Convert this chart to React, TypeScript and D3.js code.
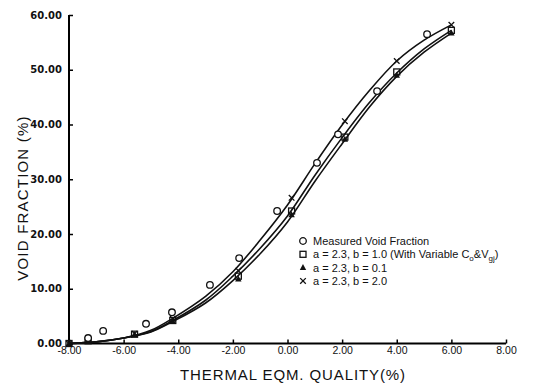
import { useEffect, useRef } from "react";
import * as d3 from "d3";

// measured void fraction (open circles)
const measuredX = [-7.3, -6.75, -5.18, -4.23, -2.84, -1.77, -0.38, 1.08, 1.85, 3.28, 5.11];
const measuredY = [1.0, 2.3, 3.6, 5.7, 10.7, 15.6, 24.2, 33.0, 38.2, 46.1, 56.5];

// predicted points on each curve
const predX = [-8, -7.3, -5.6, -4.2, -1.8, 0.15, 2.1, 4.0, 6.0];
const squareY = [0, 0.5, 1.7, 4.2, 12.3, 24.2, 37.7, 49.6, 57.2];
const triangleY = [0, 0.4, 1.6, 4.0, 11.8, 23.5, 37.3, 49.0, 56.7];
const crossY = [0, 0.6, 1.8, 4.5, 13.3, 26.6, 40.6, 51.6, 58.2];

// smooth curve through each model
const curveX = [-8, -7, -6, -5, -4.2, -3, -2, -1, 0, 1, 2, 3, 4, 5, 6];
const upperY = [0, 0.3, 1.0, 2.4, 4.6, 8.6, 13.1, 18.9, 25.3, 32.8, 39.9, 46.2, 51.6, 55.4, 58.2];
const middleY = [0, 0.3, 1.0, 2.2, 4.2, 7.9, 12.3, 17.4, 23.3, 30.7, 37.6, 44.0, 49.4, 53.8, 57.2];
const lowerY = [0, 0.3, 1.0, 2.1, 4.0, 7.4, 11.5, 16.4, 22.2, 29.6, 36.5, 43.2, 48.8, 53.2, 56.7];

const xTicks = [-8, -6, -4, -2, 0, 2, 4, 6, 8];
const yTicks = [0, 10, 20, 30, 40, 50, 60];

const legendLabels = [
  "Measured Void Fraction",
  "a = 2.3, b = 1.0 (With Variable ",
  "a = 2.3, b = 0.1",
  "a = 2.3, b = 2.0",
];

export default function App() {
  const ref = useRef<SVGSVGElement>(null);

  useEffect(() => {
    if (!ref.current) return;
    const el = ref.current;
    const width = 535;
    const height = 387;
    d3.select(el).selectAll("*").remove();

    const svg = d3.select(el).attr("width", width).attr("height", height);
    svg.append("rect").attr("width", width).attr("height", height).attr("fill", "white");

    const x = d3.scaleLinear().domain([-8, 8]).range([69, 506]);
    const y = d3.scaleLinear().domain([0, 60]).range([343.5, 15]);

    // Axes
    const yAxis = svg
      .append("g")
      .attr("transform", `translate(${x(-8)},0)`)
      .call(d3.axisLeft(y).tickValues(yTicks).tickSize(-4).tickPadding(7).tickFormat((v) => Number(v).toFixed(2)));
    yAxis.select(".domain").attr("stroke-width", 2).attr("d", `M0,${y(0)}V${y(60)}`);
    yAxis.selectAll("line").attr("stroke-width", 1.5);
    yAxis
      .selectAll("text")
      .style("font-family", "'DejaVu Sans', sans-serif")
      .style("font-weight", "bold")
      .style("font-size", "10px")
      .attr("fill", "#111");

    const xAxis = svg
      .append("g")
      .attr("transform", `translate(0,${y(0)})`)
      .call(d3.axisBottom(x).tickValues(xTicks).tickSize(-4).tickPadding(3).tickFormat((v) => Number(v).toFixed(2)));
    xAxis.select(".domain").attr("stroke-width", 2).attr("d", `M${x(-8)},0H${x(8)}`);
    xAxis.selectAll("line").attr("stroke-width", 1.5);
    xAxis
      .selectAll("text")
      .style("font-family", "'Liberation Sans', sans-serif")
      .style("font-size", "10.5px")
      .attr("fill", "#111");

    // Axis titles
    svg
      .append("text")
      .attr("x", 293)
      .attr("y", 380)
      .attr("text-anchor", "middle")
      .style("font-family", "'Liberation Sans', sans-serif")
      .style("font-size", "15px")
      .style("letter-spacing", "0.9px")
      .attr("fill", "#111")
      .text("THERMAL  EQM. QUALITY(%)");

    svg
      .append("text")
      .attr("transform", "translate(28,198) rotate(-90)")
      .attr("text-anchor", "middle")
      .style("font-family", "'Liberation Sans', sans-serif")
      .style("font-size", "15px")
      .style("letter-spacing", "1.2px")
      .attr("fill", "#111")
      .text("VOID  FRACTION (%)");

    // Curves
    const line = d3
      .line<[number, number]>()
      .x((d) => x(d[0]))
      .y((d) => y(d[1]))
      .curve(d3.curveCatmullRom);
    [upperY, middleY, lowerY].forEach((ys) => {
      svg
        .append("path")
        .attr("d", line(curveX.map((cx, i) => [cx, ys[i]] as [number, number])))
        .attr("fill", "none")
        .attr("stroke", "#111")
        .attr("stroke-width", 1.6);
    });

    // Markers
    const circle = (g: any, cx: number, cy: number) =>
      g.append("circle").attr("cx", cx).attr("cy", cy).attr("r", 3.3).attr("fill", "white").attr("stroke", "#111").attr("stroke-width", 1.3);
    const square = (g: any, cx: number, cy: number) =>
      g.append("rect").attr("x", cx - 3).attr("y", cy - 3).attr("width", 6).attr("height", 6).attr("fill", "none").attr("stroke", "#111").attr("stroke-width", 1.3);
    const triangle = (g: any, cx: number, cy: number) =>
      g.append("path").attr("d", `M${cx},${cy - 3.5}L${cx + 3.2},${cy + 2.5}L${cx - 3.2},${cy + 2.5}Z`).attr("fill", "#111");
    const cross = (g: any, cx: number, cy: number) =>
      g.append("path").attr("d", `M${cx - 2.8},${cy - 2.8}L${cx + 2.8},${cy + 2.8}M${cx + 2.8},${cy - 2.8}L${cx - 2.8},${cy + 2.8}`).attr("stroke", "#111").attr("stroke-width", 1.3);

    const marks = svg.append("g");
    predX.forEach((px, i) => {
      square(marks, x(px), y(squareY[i]));
      triangle(marks, x(px), y(triangleY[i]));
      cross(marks, x(px), y(crossY[i]));
    });
    measuredX.forEach((mx, i) => circle(marks, x(mx), y(measuredY[i])));

    // Legend
    const legend = svg.append("g").attr("transform", "translate(303,241)");
    const markerFns = [circle, square, triangle, cross];
    legendLabels.forEach((label, i) => {
      const g = legend.append("g").attr("transform", `translate(0,${i * 13.3})`);
      markerFns[i](g, 0, 0);
      const t = g
        .append("text")
        .attr("x", 10)
        .attr("y", 4)
        .style("font-family", "'Liberation Sans', sans-serif")
        .style("font-size", "11px")
        .attr("fill", "#111")
        .text(label);
      if (i === 1) {
        t.append("tspan").text("C");
        t.append("tspan").attr("dy", 3).style("font-size", "8px").text("o");
        t.append("tspan").attr("dy", -3).text("&V");
        t.append("tspan").attr("dy", 3).style("font-size", "8px").text("gj");
        t.append("tspan").attr("dy", -3).text(")");
      }
    });
  }, []);

  return <svg ref={ref} style={{ position: "absolute", left: 0, top: 0 }} />;
}
